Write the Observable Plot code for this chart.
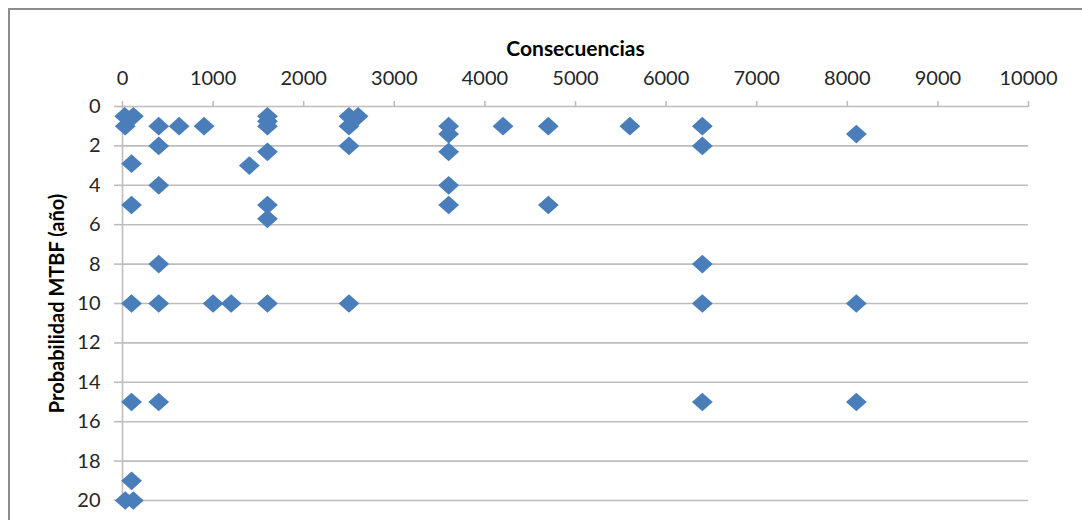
<!DOCTYPE html>
<html>
<head>
<meta charset="utf-8">
<script src="https://cdn.jsdelivr.net/npm/d3@7"></script>
<script src="https://cdn.jsdelivr.net/npm/@observablehq/plot@0.6"></script>
<style>
  html, body { margin: 0; padding: 0; background: #ffffff; }
  #wrap { position: relative; width: 1082px; height: 520px; overflow: hidden; }
  #frame {
    position: absolute; left: 8px; top: 8px; width: 1200px; height: 700px;
    border-left: 2px solid #8c8c8c; border-top: 2px solid #8c8c8c;
    box-sizing: border-box; pointer-events: none;
  }
  #wrap svg { position: absolute; left: 0; top: 0; }
</style>
</head>
<body>
<div id="wrap"><div id="frame"></div></div>
<script>
// Consequences (x) and MTBF probability in years (y) for each assessed event
const consecuencias = [
  25, 120, 30,
  400, 625, 900,
  1600, 1600, 1600,
  2500, 2600, 2500,
  3600, 3600, 4200, 4700, 5600, 6400, 8100,
  400, 1600, 2500, 3600, 6400,
  100, 1400,
  400, 3600,
  100, 1600, 3600, 4700,
  1600,
  400, 6400,
  100, 400, 1000, 1200, 1600, 2500, 6400, 8100,
  100, 400, 6400, 8100,
  100, 30, 120
];
const probabilidad = [
  0.5, 0.5, 1,
  1, 1, 1,
  0.5, 0.75, 1,
  0.5, 0.5, 1,
  1, 1.4, 1, 1, 1, 1, 1.4,
  2, 2.3, 2, 2.3, 2,
  2.9, 3,
  4, 4,
  5, 5, 5, 5,
  5.7,
  8, 8,
  10, 10, 10, 10, 10, 10, 10, 10,
  15, 15, 15, 15,
  19, 20, 20
];
const xTicks = [0, 1000, 2000, 3000, 4000, 5000, 6000, 7000, 8000, 9000, 10000];
const yTicks = [0, 2, 4, 6, 8, 10, 12, 14, 16, 18, 20];
const xTitle = "Consecuencias";
const yTitle = "Probabilidad MTBF (año)";

const puntos = consecuencias.map((c, i) => ({c, p: probabilidad[i]}));

// Diamond marker, a little wider than tall
const diamond = {
  draw(context, size) {
    const r = Math.sqrt(size / Math.PI);
    const w = r, h = r * 0.9;
    context.moveTo(0, -h);
    context.lineTo(w, 0);
    context.lineTo(0, h);
    context.lineTo(-w, 0);
    context.closePath();
  }
};

const grid = "#bdbdbd";
const ink = "#262626";
const plain = d => String(d);

const chart = Plot.plot({
  width: 1082,
  height: 520,
  marginLeft: 122,
  marginRight: 54,
  marginTop: 106,
  marginBottom: 20,
  style: {fontFamily: "Lato, 'Open Sans', sans-serif", fontSize: "20px", color: ink, background: "transparent", overflow: "visible"},
  x: {domain: [0, 10000]},
  y: {domain: [0, 20], reverse: true},
  marks: [
    Plot.gridY(yTicks, {stroke: grid, strokeOpacity: 1, strokeWidth: 1.6}),
    Plot.ruleX([0], {stroke: grid, strokeWidth: 1.6}),
    Plot.axisX(xTicks, {anchor: "top", tickSize: 6, tickPadding: 16, tickFormat: plain, stroke: grid, strokeWidth: 1.6, strokeOpacity: 1, label: null, fill: ink}),
    Plot.axisY(yTicks, {anchor: "left", tickSize: 8, tickPadding: 14, tickFormat: plain, stroke: grid, strokeWidth: 1.6, strokeOpacity: 1, label: null, fill: ink}),
    Plot.text([xTitle], {frameAnchor: "top", dy: -65, text: d => d, fontWeight: "bold", fontSize: 21, fill: "#000"}),
    Plot.text([yTitle], {frameAnchor: "left", dx: -65, rotate: -90, textAnchor: "middle", text: d => d, fontWeight: "bold", fontSize: 20, fill: "#000"}),
    Plot.dot(puntos, {x: "c", y: "p", r: 10.4, symbol: diamond, fill: "#4a7ebb", stroke: "none"})
  ]
});

document.getElementById("wrap").insertBefore(chart, document.getElementById("frame"));
</script>
</body>
</html>
